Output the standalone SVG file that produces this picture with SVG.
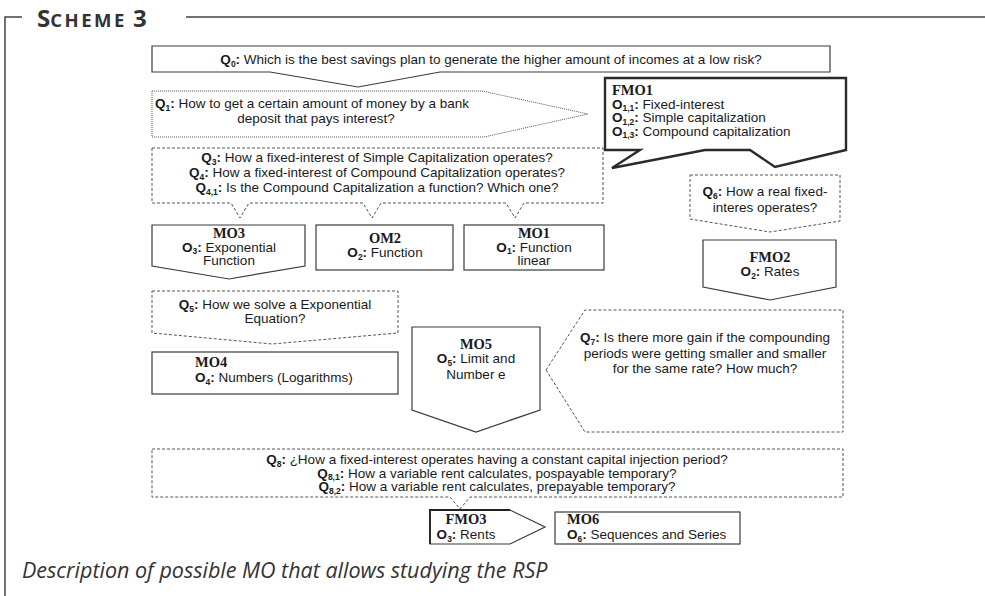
<svg xmlns="http://www.w3.org/2000/svg" width="985" height="596" viewBox="0 0 985 596">
<style>
.t{font-family:"Liberation Sans",Arial,sans-serif;font-size:13.5px;fill:#1a1a1a}
.b{font-weight:bold}
.sb{font-size:8.5px;font-weight:bold}
.h{font-family:"Liberation Serif","Times New Roman",serif;font-weight:bold;font-size:14.5px;fill:#1a1a1a}
.solid{fill:#fff;stroke:#3a3a3a;stroke-width:1.2}
.thick{fill:#fff;stroke:#2a2a2a;stroke-width:2.4}
.dash{fill:#fff;stroke:#555;stroke-width:1;stroke-dasharray:3 2}
.dot{fill:#fff;stroke:#555;stroke-width:1;stroke-dasharray:1 1}
.frame{fill:none;stroke:#444;stroke-width:1.5}
.m{text-anchor:middle}
</style>
<rect width="985" height="596" fill="#fff"/>
<g id="frame">
<path class="frame" d="M5,596 V17 H22 M186,17 H985"/>
<text x="37" y="27" font-family="Open Sans,sans-serif" font-weight="bold" fill="#333"><tspan font-size="24">S</tspan><tspan font-size="18.5" letter-spacing="2.5">CHEME</tspan><tspan font-size="24"> 3</tspan></text>
</g>
<g id="connectors"></g>
<g id="Q0">
<path class="solid" d="M152,46 H830 V72 H440 L358,87 L270,72 H152 Z"/>
<text class="t m" x="491" y="64"><tspan class="b">Q</tspan><tspan class="sb" dy="2.5">0</tspan><tspan class="b" dy="-2.5">:</tspan> Which is the best savings plan to generate the higher amount of incomes at a low risk?</text>
</g>
<g id="Q1">
<path class="dot" d="M152,91 H482 L588,114 L484,137 H152 Z"/>
<text class="t" x="155" y="108"><tspan class="b">Q</tspan><tspan class="sb" dy="2.5">1</tspan><tspan class="b" dy="-2.5">:</tspan> How to get a certain amount of money by a bank</text>
<text class="t m" x="316" y="123">deposit that pays interest?</text>
</g>
<g id="FMO1">
<path class="thick" d="M605,78 H846 V150 L775,167 L750,150 H705 L612,168 L640,150 H605 Z"/>
<text class="h" x="612" y="95">FMO1</text>
<text class="t" x="612" y="108.5"><tspan class="b">O</tspan><tspan class="sb" dy="2.5">1,1</tspan><tspan class="b" dy="-2.5">:</tspan> Fixed-interest</text>
<text class="t" x="612" y="122"><tspan class="b">O</tspan><tspan class="sb" dy="2.5">1,2</tspan><tspan class="b" dy="-2.5">:</tspan> Simple capitalization</text>
<text class="t" x="612" y="135.5"><tspan class="b">O</tspan><tspan class="sb" dy="2.5">1,3</tspan><tspan class="b" dy="-2.5">:</tspan> Compound capitalization</text>
</g>
<g id="Q3">
<path class="dash" d="M152,148 H603 V203 H524 L515,218 L506,203 H381 L372,218 L363,203 H249 L240,218 L231,203 H152 Z"/>
<text class="t m" x="377" y="162"><tspan class="b">Q</tspan><tspan class="sb" dy="2.5">3</tspan><tspan class="b" dy="-2.5">:</tspan> How a fixed-interest of Simple Capitalization operates?</text>
<text class="t m" x="377" y="177"><tspan class="b">Q</tspan><tspan class="sb" dy="2.5">4</tspan><tspan class="b" dy="-2.5">:</tspan> How a fixed-interest of Compound Capitalization operates?</text>
<text class="t m" x="377" y="192"><tspan class="b">Q</tspan><tspan class="sb" dy="2.5">4,1</tspan><tspan class="b" dy="-2.5">:</tspan> Is the Compound Capitalization a function? Which one?</text>
</g>
<g id="MO3">
<path class="solid" d="M152,225 H305 V266 L229,279 L152,266 Z"/>
<text class="h m" x="229" y="238">MO3</text>
<text class="t m" x="229" y="251.5"><tspan class="b">O</tspan><tspan class="sb" dy="2.5">3</tspan><tspan class="b" dy="-2.5">:</tspan> Exponential</text>
<text class="t m" x="229" y="265">Function</text>
</g>
<g id="OM2">
<rect class="solid" x="316" y="225" width="137" height="45"/>
<text class="h m" x="385" y="243">OM2</text>
<text class="t m" x="385" y="257"><tspan class="b">O</tspan><tspan class="sb" dy="2.5">2</tspan><tspan class="b" dy="-2.5">:</tspan> Function</text>
</g>
<g id="MO1">
<rect class="solid" x="464" y="225" width="140" height="45"/>
<text class="h m" x="534" y="238">MO1</text>
<text class="t m" x="534" y="251.5"><tspan class="b">O</tspan><tspan class="sb" dy="2.5">1</tspan><tspan class="b" dy="-2.5">:</tspan> Function</text>
<text class="t m" x="534" y="265">linear</text>
</g>
<g id="Q6">
<path class="dash" d="M690,175 H840 V221 L770,232 L690,219 Z"/>
<text class="t m" x="765" y="196"><tspan class="b">Q</tspan><tspan class="sb" dy="2.5">6</tspan><tspan class="b" dy="-2.5">:</tspan> How a real fixed-</text>
<text class="t m" x="765" y="211.5">interes operates?</text>
</g>
<g id="FMO2">
<path class="solid" d="M703,240 H836 V287 L770,300 L703,287 Z"/>
<text class="h m" x="770" y="262">FMO2</text>
<text class="t m" x="770" y="276"><tspan class="b">O</tspan><tspan class="sb" dy="2.5">2</tspan><tspan class="b" dy="-2.5">:</tspan> Rates</text>
</g>
<g id="Q5">
<path class="dash" d="M152,291 H398 V333 L272,344 L152,333 Z"/>
<text class="t m" x="275" y="309"><tspan class="b">Q</tspan><tspan class="sb" dy="2.5">5</tspan><tspan class="b" dy="-2.5">:</tspan> How we solve a Exponential</text>
<text class="t m" x="275" y="323">Equation?</text>
</g>
<g id="MO4">
<rect class="solid" x="152" y="352" width="246" height="42"/>
<text class="h" x="195" y="367">MO4</text>
<text class="t" x="195" y="382"><tspan class="b">O</tspan><tspan class="sb" dy="2.5">4</tspan><tspan class="b" dy="-2.5">:</tspan> Numbers (Logarithms)</text>
</g>
<g id="MO5">
<path class="solid" d="M412,327 H540 V410 L476,432 L412,410 Z"/>
<text class="h m" x="476" y="349">MO5</text>
<text class="t m" x="476" y="363"><tspan class="b">O</tspan><tspan class="sb" dy="2.5">5</tspan><tspan class="b" dy="-2.5">:</tspan> Limit and</text>
<text class="t m" x="476" y="378.5">Number e</text>
</g>
<g id="Q7">
<path class="dash" d="M546,370 L585,310 H843 V432 H585 Z"/>
<text class="t m" x="705" y="342"><tspan class="b">Q</tspan><tspan class="sb" dy="2.5">7</tspan><tspan class="b" dy="-2.5">:</tspan> Is there more gain if the compounding</text>
<text class="t m" x="705" y="357.5">periods were getting smaller and smaller</text>
<text class="t m" x="705" y="373">for the same rate? How much?</text>
</g>
<g id="Q8">
<path class="dash" d="M152,449 H843 V497 H470 L460,509 L450,497 H152 Z"/>
<text class="t m" x="497" y="464"><tspan class="b">Q</tspan><tspan class="sb" dy="2.5">8</tspan><tspan class="b" dy="-2.5">:</tspan> ¿How a fixed-interest operates having a constant capital injection period?</text>
<text class="t m" x="497" y="477.5"><tspan class="b">Q</tspan><tspan class="sb" dy="2.5">8,1</tspan><tspan class="b" dy="-2.5">:</tspan> How a variable rent calculates, pospayable temporary?</text>
<text class="t m" x="497" y="491"><tspan class="b">Q</tspan><tspan class="sb" dy="2.5">8,2</tspan><tspan class="b" dy="-2.5">:</tspan> How a variable rent calculates, prepayable temporary?</text>
</g>
<g id="FMO3">
<path class="solid" d="M430,510 H510 L545,527 L510,544 H430 Z"/>
<path d="M430,544 V510 H510" fill="none" stroke="#222" stroke-width="1.8"/>
<text class="h m" x="466" y="524">FMO3</text>
<text class="t m" x="466" y="539"><tspan class="b">O</tspan><tspan class="sb" dy="2.5">3</tspan><tspan class="b" dy="-2.5">:</tspan> Rents</text>
</g>
<g id="MO6">
<rect class="solid" x="555" y="512" width="185" height="32"/>
<text class="h" x="567" y="524">MO6</text>
<text class="t" x="567" y="539"><tspan class="b">O</tspan><tspan class="sb" dy="2.5">6</tspan><tspan class="b" dy="-2.5">:</tspan> Sequences and Series</text>
</g>
<text x="22" y="578" font-family="Open Sans,sans-serif" font-style="italic" font-size="21.5" fill="#333">Description of possible MO that allows studying the RSP</text>
</svg>
